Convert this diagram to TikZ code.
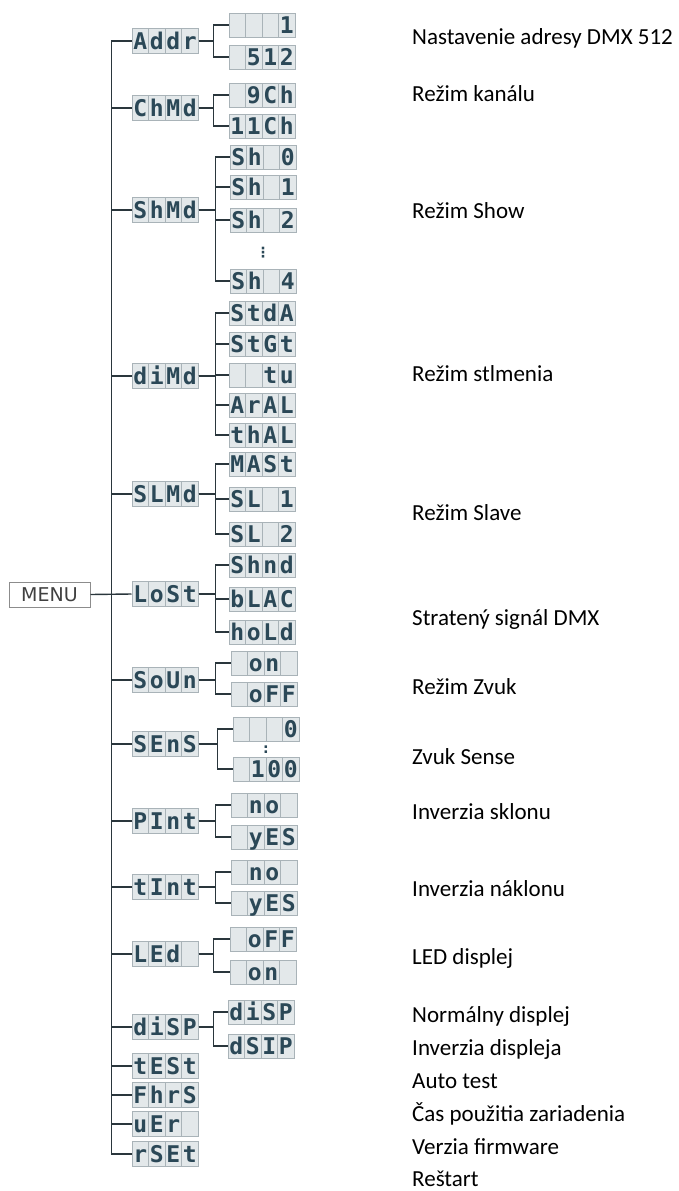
\documentclass[tikz,border=0pt]{standalone}
\usepackage{fontspec}
\setmainfont{Carlito}
\newfontfamily\lcdfamily{DejaVu Sans Mono}
\newfontfamily\menufamily{DejaVu Sans}
\usepackage{xcolor}
\usepackage{tikz}
\definecolor{lcdink}{HTML}{2B4857}
\definecolor{lcdfill}{HTML}{E3E8EA}
\definecolor{lcdedge}{HTML}{A9B3B8}
\definecolor{wirecol}{HTML}{2A363C}
\newcommand{\cells}[4]{\makebox[16.5pt]{#1}\makebox[16.5pt]{#2}\makebox[16.5pt]{#3}\makebox[16.5pt]{#4}}

\begin{document}
\begin{tikzpicture}[
  x=1pt, y=-1pt,
  wire/.style={draw=wirecol, line width=1.4pt},
  lcd/.style={draw=lcdedge, line width=1pt, fill=lcdfill, minimum width=66pt, minimum height=25pt,
    inner sep=0pt, text height=16.5pt, text depth=0pt, text=lcdink,
    font=\lcdfamily\bfseries\fontsize{23}{23}\selectfont,
    path picture={
      \draw[lcdedge, line width=1pt] ([xshift=16.5pt]path picture bounding box.south west) -- ([xshift=16.5pt]path picture bounding box.north west);
      \draw[lcdedge, line width=1pt] ([xshift=33pt]path picture bounding box.south west) -- ([xshift=33pt]path picture bounding box.north west);
      \draw[lcdedge, line width=1pt] ([xshift=49.5pt]path picture bounding box.south west) -- ([xshift=49.5pt]path picture bounding box.north west);
    }},
  sub/.style={lcd, minimum height=24pt},
  menubox/.style={draw=black!45, line width=1pt, fill=white, minimum width=81pt, minimum height=25pt,
    inner sep=0pt, font=\menufamily\fontsize{19}{19}\selectfont, text=black!75},
  desc/.style={anchor=base west, inner sep=0pt, font=\fontsize{23}{23}\selectfont},
  dots/.style={inner sep=0pt, text=lcdink, font=\menufamily\bfseries\fontsize{14}{14}\selectfont},
]
\useasboundingbox (0,0) rectangle (679,1191);

% menu
\node[menubox] (menu) at (49.5,594.5) {MENU};

% first level
\node[lcd] (addr) at (165,41)   {\cells{A}{d}{d}{r}};
\node[lcd] (chmd) at (165,108)  {\cells{C}{h}{M}{d}};
\node[lcd] (shmd) at (165,210)  {\cells{S}{h}{M}{d}};
\node[lcd] (dimd) at (165,376)  {\cells{d}{i}{M}{d}};
\node[lcd] (slmd) at (165,494)  {\cells{S}{L}{M}{d}};
\node[lcd] (lost) at (165,594)  {\cells{L}{o}{S}{t}};
\node[lcd] (soun) at (165,680)  {\cells{S}{o}{U}{n}};
\node[lcd] (sens) at (165,744)  {\cells{S}{E}{n}{S}};
\node[lcd] (pint) at (165,821)  {\cells{P}{I}{n}{t}};
\node[lcd] (tint) at (165,887)  {\cells{t}{I}{n}{t}};
\node[lcd] (led)  at (165,954)  {\cells{L}{E}{d}{}};
\node[lcd] (disp) at (165,1027) {\cells{d}{i}{S}{P}};
\node[lcd] (test) at (165,1066) {\cells{t}{E}{S}{t}};
\node[lcd] (fhrs) at (165,1095) {\cells{F}{h}{r}{S}};
\node[lcd] (ver)  at (165,1124) {\cells{u}{E}{r}{}};
\node[lcd] (rset) at (165,1154) {\cells{r}{S}{E}{t}};

% second level
\node[sub] (addr1) at (262,25)   {\cells{}{}{}{1}};
\node[sub] (addr2) at (262,57)   {\cells{}{5}{1}{2}};
\node[sub] (chmd1) at (262,95)   {\cells{}{9}{C}{h}};
\node[sub] (chmd2) at (262,126)  {\cells{1}{1}{C}{h}};
\node[sub] (shmd1) at (263,157)  {\cells{S}{h}{}{0}};
\node[sub] (shmd2) at (263,187)  {\cells{S}{h}{}{1}};
\node[sub] (shmd3) at (263,220)  {\cells{S}{h}{}{2}};
\node[dots] (shdots) at (263,253) {⋮};
\node[sub] (shmd4) at (263,281)  {\cells{S}{h}{}{4}};
\node[sub] (dimd1) at (262,313)  {\cells{S}{t}{d}{A}};
\node[sub] (dimd2) at (262,344)  {\cells{S}{t}{G}{t}};
\node[sub] (dimd3) at (262,375)  {\cells{}{}{t}{u}};
\node[sub] (dimd4) at (262,405)  {\cells{A}{r}{A}{L}};
\node[sub] (dimd5) at (262,435)  {\cells{t}{h}{A}{L}};
\node[sub] (slmd1) at (262,464)  {\cells{M}{A}{S}{t}};
\node[sub] (slmd2) at (262,499)  {\cells{S}{L}{}{1}};
\node[sub] (slmd3) at (262,534)  {\cells{S}{L}{}{2}};
\node[sub] (lost1) at (262,565)  {\cells{S}{h}{n}{d}};
\node[sub] (lost2) at (262,599)  {\cells{b}{L}{A}{C}};
\node[sub] (lost3) at (262,632)  {\cells{h}{o}{L}{d}};
\node[sub] (soun1) at (264,663)  {\cells{}{o}{n}{}};
\node[sub] (soun2) at (264,694)  {\cells{}{o}{F}{F}};
\node[sub] (sens1) at (266,729)  {\cells{}{}{}{0}};
\node[dots] (sensdot) at (266,750) {:};
\node[sub] (sens2) at (266,769)  {\cells{}{1}{0}{0}};
\node[sub] (pint1) at (264,805)  {\cells{}{n}{o}{}};
\node[sub] (pint2) at (264,837)  {\cells{}{y}{E}{S}};
\node[sub] (tint1) at (264,872)  {\cells{}{n}{o}{}};
\node[sub] (tint2) at (264,903)  {\cells{}{y}{E}{S}};
\node[sub] (led1)  at (263,939)  {\cells{}{o}{F}{F}};
\node[sub] (led2)  at (263,972)  {\cells{}{o}{n}{}};
\node[sub] (disp1) at (261,1012) {\cells{d}{i}{S}{P}};
\node[sub] (disp2) at (261,1046) {\cells{d}{S}{I}{P}};

% descriptions
\node[desc] (t1)  at (412,44)   {Nastavenie adresy DMX 512};
\node[desc] (t2)  at (412,101)  {Režim kanálu};
\node[desc] (t3)  at (412,218)  {Režim Show};
\node[desc] (t4)  at (412,381)  {Režim stlmenia};
\node[desc] (t5)  at (412,520)  {Režim Slave};
\node[desc] (t6)  at (412,625)  {Stratený signál DMX};
\node[desc] (t7)  at (412,694)  {Režim Zvuk};
\node[desc] (t8)  at (412,764)  {Zvuk Sense};
\node[desc] (t9)  at (412,819)  {Inverzia sklonu};
\node[desc] (t10) at (412,896)  {Inverzia náklonu};
\node[desc] (t11) at (412,964)  {LED displej};
\node[desc] (t12) at (412,1022) {Normálny displej};
\node[desc] (t13) at (412,1055) {Inverzia displeja};
\node[desc] (t14) at (412,1088) {Auto test};
\node[desc] (t15) at (412,1121) {Čas použitia zariadenia};
\node[desc] (t16) at (412,1154) {Verzia firmware};
\node[desc] (t17) at (412,1186) {Reštart};

% trunk
\draw[wire] (menu.east) -- (lost.west);
\draw[wire] (addr.west) -- ++(-20,0) |- (rset.west);
\draw[wire] (chmd.west) -- ++(-20,0);
\draw[wire] (shmd.west) -- ++(-20,0);
\draw[wire] (dimd.west) -- ++(-20,0);
\draw[wire] (slmd.west) -- ++(-20,0);
\draw[wire] (soun.west) -- ++(-20,0);
\draw[wire] (sens.west) -- ++(-20,0);
\draw[wire] (pint.west) -- ++(-20,0);
\draw[wire] (tint.west) -- ++(-20,0);
\draw[wire] (led.west) -- ++(-20,0);
\draw[wire] (disp.west) -- ++(-20,0);
\draw[wire] (test.west) -- ++(-20,0);
\draw[wire] (fhrs.west) -- ++(-20,0);
\draw[wire] (ver.west) -- ++(-20,0);

% brackets to the options
\draw[wire] (addr.east) -- ++(15,0) |- (addr1.west);
\draw[wire] (addr.east) -- ++(15,0) |- (addr2.west);
\draw[wire] (chmd.east) -- ++(15,0) |- (chmd1.west);
\draw[wire] (chmd.east) -- ++(15,0) |- (chmd2.west);
\draw[wire] (shmd.east) -- ++(17,0) |- (shmd1.west);
\draw[wire] (shmd.east) -- ++(17,0) |- (shmd2.west);
\draw[wire] (shmd.east) -- ++(17,0) |- (shmd3.west);
\draw[wire] (shmd.east) -- ++(17,0) |- (shmd4.west);
\draw[wire] (dimd.east) -- ++(17,0) |- (dimd1.west);
\draw[wire] (dimd.east) -- ++(17,0) |- (dimd2.west);
\draw[wire] (dimd.east) -- ++(17,0) |- (dimd3.west);
\draw[wire] (dimd.east) -- ++(17,0) |- (dimd4.west);
\draw[wire] (dimd.east) -- ++(17,0) |- (dimd5.west);
\draw[wire] (slmd.east) -- ++(17,0) |- (slmd1.west);
\draw[wire] (slmd.east) -- ++(17,0) |- (slmd2.west);
\draw[wire] (slmd.east) -- ++(17,0) |- (slmd3.west);
\draw[wire] (lost.east) -- ++(17,0) |- (lost1.west);
\draw[wire] (lost.east) -- ++(17,0) |- (lost2.west);
\draw[wire] (lost.east) -- ++(17,0) |- (lost3.west);
\draw[wire] (soun.east) -- ++(17,0) |- (soun1.west);
\draw[wire] (soun.east) -- ++(17,0) |- (soun2.west);
\draw[wire] (sens.east) -- ++(19,0) |- (sens1.west);
\draw[wire] (sens.east) -- ++(19,0) |- (sens2.west);
\draw[wire] (pint.east) -- ++(17,0) |- (pint1.west);
\draw[wire] (pint.east) -- ++(17,0) |- (pint2.west);
\draw[wire] (tint.east) -- ++(17,0) |- (tint1.west);
\draw[wire] (tint.east) -- ++(17,0) |- (tint2.west);
\draw[wire] (led.east) -- ++(15,0) |- (led1.west);
\draw[wire] (led.east) -- ++(15,0) |- (led2.west);
\draw[wire] (disp.east) -- ++(15,0) |- (disp1.west);
\draw[wire] (disp.east) -- ++(15,0) |- (disp2.west);
\end{tikzpicture}
\end{document}
